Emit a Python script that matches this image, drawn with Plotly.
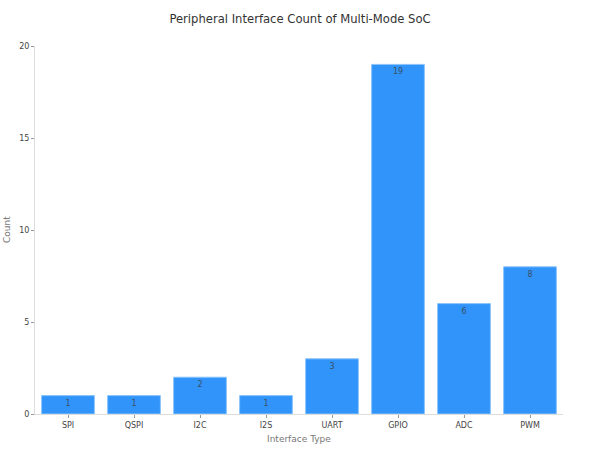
import plotly.graph_objects as go

categories = ["SPI", "QSPI", "I2C", "I2S", "UART", "GPIO", "ADC", "PWM"]
counts = [1, 1, 2, 1, 3, 19, 6, 8]

fig = go.Figure(go.Bar(
    x=categories,
    y=counts,
    text=counts,
    textposition="inside",
    insidetextanchor="end",
    textfont=dict(size=8, color="#3b4f66"),
    marker=dict(color="#3194FA", line=dict(color="#8CC4FA", width=1)),
))

fig.update_layout(
    width=600, height=450,
    margin=dict(l=35, r=37, t=46, b=36),
    paper_bgcolor="white", plot_bgcolor="white",
    font=dict(family="DejaVu Sans", size=8, color="#444"),
    title=dict(text="Peripheral Interface Count of Multi-Mode SoC", x=0.5, xanchor="center",
               yref="container", y=1 - 19 / 450, yanchor="middle", font=dict(size=11.6, color="#333")),
    bargap=0.2,
    showlegend=False,
    annotations=[
        dict(text="Interface Type", xref="paper", yref="paper", x=0.5, y=-25 / 368,
             xanchor="center", yanchor="middle", showarrow=False, font=dict(size=9, color="#777")),
        dict(text="Count", xref="paper", yref="paper", x=-28 / 528, y=0.5, textangle=-90,
             xanchor="center", yanchor="middle", showarrow=False, font=dict(size=9, color="#777")),
    ],
)
fig.update_xaxes(
    automargin=False,
    showline=True, linecolor="#ddd", linewidth=1,
    ticks="outside", ticklen=3, tickcolor="#999",
    showgrid=False, tickfont=dict(size=8, color="#444"),
)
fig.update_yaxes(
    automargin=False,
    range=[0, 20], dtick=5,
    showline=True, linecolor="#ddd", linewidth=1,
    ticks="outside", ticklen=3, tickcolor="#999",
    showgrid=False, zeroline=False, tickfont=dict(size=8, color="#444"),
)

fig.write_html("out.html", config={"displayModeBar": False},
               post_script="document.body.style.margin='0px';")
